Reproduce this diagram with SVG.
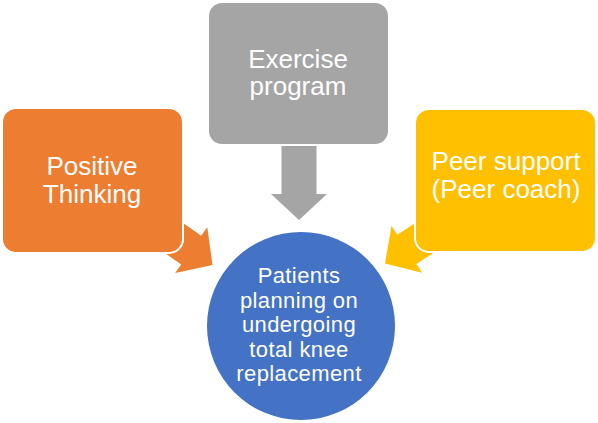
<svg xmlns="http://www.w3.org/2000/svg" width="598" height="423" viewBox="0 0 598 423">
  <style>
    .box { stroke: #FFFFFF; stroke-width: 2; }
    .lbl { font-family: "Liberation Sans", Arial, sans-serif; fill: #FFFFFF; text-anchor: middle; }
    .big { font-size: 26px; }
    .sm { font-size: 22px; letter-spacing: 0.4px; }
  </style>
  <defs>
    <path id="arrow" d="M0,0 L-26,-28 L-26,-17.5 L-80,-17.5 L-80,17.5 L-26,17.5 L-26,28 Z"/>
  </defs>
  <g id="connectors">
    <use href="#arrow" fill="#ED7D31" transform="translate(212.5,265) rotate(35)"/>
    <use href="#arrow" fill="#A5A5A5" transform="translate(299,220) rotate(90)"/>
    <use href="#arrow" fill="#FFC000" transform="translate(385,263.5) rotate(147)"/>
  </g>
  <g id="positive-thinking">
    <rect class="box" x="2" y="108" width="181" height="145" rx="14" fill="#ED7D31"/>
    <text class="lbl big" x="92" y="175">Positive</text>
    <text class="lbl big" x="92" y="202.5">Thinking</text>
  </g>
  <g id="exercise-program">
    <rect class="box" x="208" y="2" width="181" height="143" rx="14" fill="#A5A5A5"/>
    <text class="lbl big" x="298" y="67.5">Exercise</text>
    <text class="lbl big" x="298" y="95">program</text>
  </g>
  <g id="peer-support">
    <rect class="box" x="415" y="109" width="181" height="143" rx="14" fill="#FFC000"/>
    <text class="lbl big" x="506" y="170">Peer support</text>
    <text class="lbl big" x="506" y="198">(Peer coach)</text>
  </g>
  <g id="patients">
    <circle cx="301" cy="326" r="94" fill="#4472C4"/>
    <text class="lbl sm" x="299" y="283">Patients</text>
    <text class="lbl sm" x="299" y="307.6">planning on</text>
    <text class="lbl sm" x="299" y="332.2">undergoing</text>
    <text class="lbl sm" x="299" y="356.8">total knee</text>
    <text class="lbl sm" x="299" y="381.4">replacement</text>
  </g>
</svg>
